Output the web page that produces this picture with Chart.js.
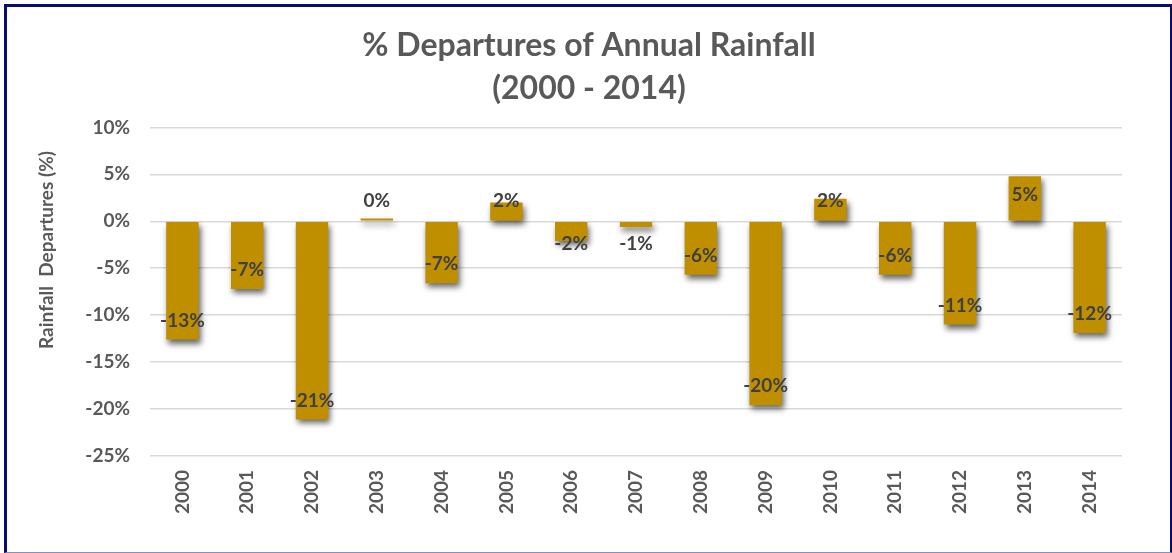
<!DOCTYPE html>
<html>
<head>
<meta charset="utf-8">
<script src="https://cdn.jsdelivr.net/npm/chart.js@4.4.1/dist/chart.umd.min.js"></script>
<style>
  html, body { margin: 0; padding: 0; background: #ffffff; }
  #wrap { position: relative; width: 1172px; height: 553px; overflow: hidden; }
  #c { position: absolute; left: 0; top: 0; }
  #frame {
    position: absolute; left: 4px; top: 4px; width: 1163px; height: 545px;
    border-left: 3px solid #0b0b6b; border-top: 3px solid #0b0b6b;
    border-right: 3px solid #0b0b6b; border-bottom: 1px solid #8c8cc4;
    pointer-events: none;
  }
</style>
</head>
<body>
<div id="wrap">
  <canvas id="c" width="1172" height="553"></canvas>
  <div id="frame"></div>
</div>
<script>
const years = ['2000','2001','2002','2003','2004','2005','2006','2007','2008','2009','2010','2011','2012','2013','2014'];
const departures = [-12.6, -7.2, -21.1, 0.3, -6.6, 2.0, -2.1, -0.6, -5.7, -19.6, 2.4, -5.7, -11.0, 4.8, -11.9];
const yTickValues = [10, 5, 0, -5, -10, -15, -20, -25];
const titleLines = ['% Departures of Annual Rainfall', '(2000 - 2014)'];
const yAxisTitle = 'Rainfall  Departures (%)';

const FONT = 'Lato, Carlito, Calibri, sans-serif';
const GOLD = '#BF8F00';

const shadowPlugin = {
  id: 'barShadow',
  beforeDatasetsDraw(chart) {
    const ctx = chart.ctx;
    ctx.save();
    ctx.shadowColor = 'rgba(0,0,0,0.6)';
    ctx.shadowBlur = 6;
    ctx.shadowOffsetX = 2;
    ctx.shadowOffsetY = 4;
  },
  afterDatasetsDraw(chart) {
    chart.ctx.restore();
  }
};

const labelPlugin = {
  id: 'valueLabels',
  afterDatasetsDraw(chart) {
    const ctx = chart.ctx;
    const meta = chart.getDatasetMeta(0);
    const yScale = chart.scales.y;
    const zero = yScale.getPixelForValue(0);
    ctx.save();
    ctx.font = 'bold 19px ' + FONT;
    ctx.fillStyle = '#404040';
    ctx.textAlign = 'center';
    ctx.textBaseline = 'middle';
    meta.data.forEach((bar, i) => {
      const v = departures[i];
      const sign = v >= 0 ? -1 : 1;
      const len = Math.abs(bar.y - zero);
      const d = Math.max(len - 19, v >= 0 ? 20 : 23);
      const y = zero + sign * d;
      const txt = Math.round(v) + '%';
      ctx.fillText(txt === '-0%' ? '0%' : txt, bar.x, y);
    });
    ctx.restore();
  }
};

const yTitlePlugin = {
  id: 'yTitle',
  afterDraw(chart) {
    const ctx = chart.ctx;
    ctx.save();
    ctx.translate(47, 250);
    ctx.rotate(-Math.PI / 2);
    ctx.font = 'bold 19px ' + FONT;
    ctx.fillStyle = '#595959';
    ctx.textAlign = 'center';
    ctx.textBaseline = 'middle';
    ctx.fillText(yAxisTitle, 0, 0);
    ctx.restore();
  }
};

new Chart(document.getElementById('c'), {
  type: 'bar',
  data: {
    labels: years,
    datasets: [{
      data: departures,
      backgroundColor: GOLD,
      borderWidth: 0,
      categoryPercentage: 1.0,
      barPercentage: 0.5
    }]
  },
  options: {
    responsive: false,
    animation: false,
    layout: { padding: { left: 56, right: 50, top: 0, bottom: 0 } },
    plugins: {
      legend: { display: false },
      tooltip: { enabled: false },
      title: {
        display: true,
        text: titleLines,
        color: '#595959',
        font: { family: FONT, size: 32, weight: 'bold', lineHeight: 1.35 },
        padding: { top: 24, bottom: 17 }
      }
    },
    scales: {
      x: {
        grid: { display: false, drawTicks: false },
        border: { display: false },
        ticks: {
          color: '#595959',
          font: { family: FONT, size: 19, weight: 'bold' },
          minRotation: 90, maxRotation: 90,
          padding: 14
        },
        afterFit(scale) { scale.height = 97; }
      },
      y: {
        min: -25, max: 10,
        afterBuildTicks(scale) {
          scale.ticks = yTickValues.slice().reverse().map(v => ({ value: v }));
        },
        grid: { color: '#D9D9D9', lineWidth: 1.5, drawTicks: false },
        border: { display: false },
        ticks: {
          color: '#595959',
          font: { family: FONT, size: 19, weight: 'bold' },
          padding: 20,
          callback: v => v + '%'
        },
        afterFit(scale) { scale.width = 94; }
      }
    }
  },
  plugins: [shadowPlugin, labelPlugin, yTitlePlugin]
});
</script>
</body>
</html>
